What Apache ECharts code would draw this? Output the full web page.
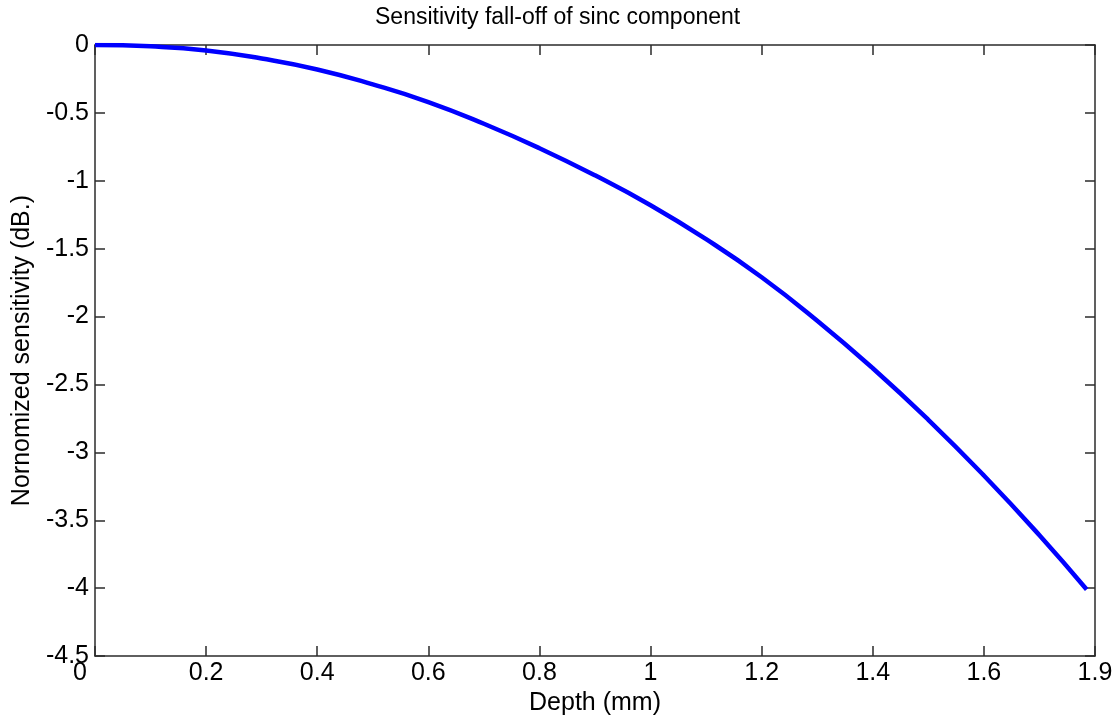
<!DOCTYPE html>
<html>
<head>
<meta charset="utf-8">
<title>Sensitivity fall-off of sinc component</title>
<script src="https://cdn.jsdelivr.net/npm/echarts@6/dist/echarts.min.js"></script>
<style>
  html, body { margin: 0; padding: 0; background: #fff; }
  #main { width: 1117px; height: 721px; }
</style>
</head>
<body>
<div id="main"></div>
<script>
// depth (mm) and sensitivity (dB)
var depth = [0, 0.1, 0.2, 0.3, 0.4, 0.5, 0.6, 0.7, 0.8, 0.9, 1.0, 1.1, 1.2, 1.3, 1.4, 1.5, 1.6, 1.7, 1.785];
var sensitivity = [0, -0.01, -0.04, -0.10, -0.18, -0.29, -0.42, -0.58, -0.76, -0.96, -1.18, -1.43, -1.71, -2.03, -2.38, -2.76, -3.17, -3.61, -4.01];
// tick labels as printed on the x axis (the last one reads 1.9)
var xTickLabels = ['0', '0.2', '0.4', '0.6', '0.8', '1', '1.2', '1.4', '1.6', '1.9'];

var font = '"Liberation Sans", Arial, sans-serif';
var axisColor = '#2b2b2b';

var points = depth.map(function (d, i) { return [d, sensitivity[i]]; });

// shared look for the box axes (MATLAB style: ticks inside, all four sides)
function boxLine() {
  return { show: true, onZero: false, lineStyle: { color: axisColor, width: 1.5 } };
}
function boxTick() {
  return { show: true, inside: true, length: 10, lineStyle: { color: axisColor, width: 1.5 } };
}

var chart = echarts.init(document.getElementById('main'));
chart.setOption({
  animation: false,
  title: {
    text: 'Sensitivity fall-off of sinc component',
    left: 375,
    top: 6,
    padding: 0,
    textStyle: { fontFamily: font, fontSize: 23, fontWeight: 'normal', color: '#000' }
  },
  grid: { left: 95, right: 22, top: 45, bottom: 63 },
  xAxis: [
    {
      type: 'value', position: 'bottom',
      min: 0, max: 1.8, interval: 0.2,
      name: 'Depth (mm)',
      nameLocation: 'middle',
      nameGap: 31,
      nameTextStyle: { fontFamily: font, fontSize: 25, color: '#000' },
      axisLine: boxLine(),
      axisTick: boxTick(),
      splitLine: { show: false },
      axisLabel: {
        margin: 5,
        fontFamily: font, fontSize: 25, color: '#000',
        formatter: function (v, i) {
          var t = xTickLabels[i] !== undefined ? xTickLabels[i] : '';
          return i === 0 ? '{first|' + t + '}' : t;
        },
        rich: { first: { fontFamily: font, fontSize: 25, color: '#000', padding: [0, 30, 0, 0] } }
      }
    },
    {
      type: 'value', position: 'top',
      min: 0, max: 1.8, interval: 0.2,
      axisLine: boxLine(),
      axisTick: boxTick(),
      axisLabel: { show: false },
      splitLine: { show: false }
    }
  ],
  yAxis: [
    {
      type: 'value', position: 'left',
      min: -4.5, max: 0, interval: 0.5,
      name: 'Nornomized sensitivity (dB.)',
      nameLocation: 'middle',
      nameGap: 60,
      nameTextStyle: { fontFamily: font, fontSize: 25, color: '#000' },
      axisLine: boxLine(),
      axisTick: boxTick(),
      splitLine: { show: false },
      axisLabel: { margin: 6, fontFamily: font, fontSize: 25, color: '#000' }
    },
    {
      type: 'value', position: 'right',
      min: -4.5, max: 0, interval: 0.5,
      axisLine: boxLine(),
      axisTick: boxTick(),
      axisLabel: { show: false },
      splitLine: { show: false }
    }
  ],
  series: [
    {
      type: 'line',
      data: points,
      smooth: true,
      showSymbol: false,
      lineStyle: { color: '#0000ff', width: 4.5 },
      itemStyle: { color: '#0000ff' }
    }
  ]
});
</script>
</body>
</html>
